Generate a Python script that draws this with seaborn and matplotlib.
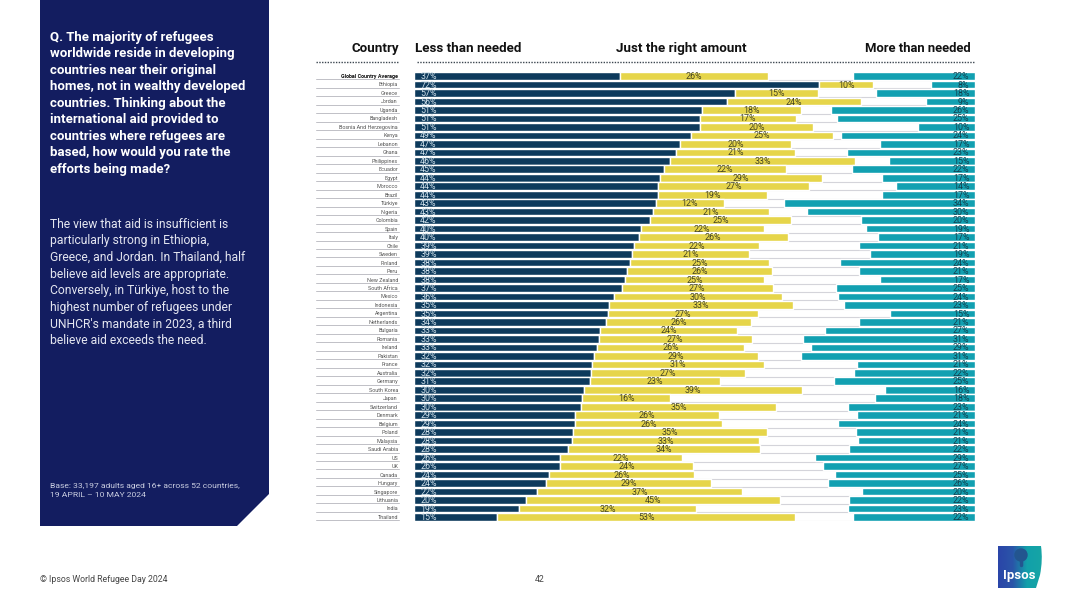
import matplotlib
matplotlib.use("Agg")
import matplotlib.pyplot as plt
import numpy as np
import pandas as pd
import seaborn as sns
from matplotlib.patches import Polygon, PathPatch
from matplotlib.path import Path

sns.set_theme(style="white")
plt.rcParams['font.family'] = ['Roboto', 'DejaVu Sans']

# data (bar lengths, labels are these rounded)
countries = ["Global Country Average", "Ethiopia", "Greece", "Jordan", "Uganda", "Bangladesh",
             "Bosnia And Herzegovina", "Kenya", "Lebanon", "Ghana", "Philippines", "Ecuador",
             "Egypt", "Morocco", "Brazil", "Türkiye", "Nigeria", "Colombia", "Spain", "Italy",
             "Chile", "Sweden", "Finland", "Peru", "New Zealand", "South Africa", "Mexico",
             "Indonesia", "Argentina", "Netherlands", "Bulgaria", "Romania", "Ireland",
             "Pakistan", "France", "Australia", "Germany", "South Korea", "Japan", "Switzerland",
             "Denmark", "Belgium", "Poland", "Malaysia", "Saudi Arabia", "US", "UK", "Canada",
             "Hungary", "Singapore", "Lithuania", "India", "Thailand"]
less = [36.7, 72.2, 57.2, 55.8, 51.4, 50.9, 50.9, 49.3, 47.4, 46.7, 45.7, 44.6, 43.9, 43.5,
        43.5, 43.1, 42.6, 42.1, 40.4, 40.1, 39.2, 38.9, 38.5, 38.0, 37.6, 37.0, 35.7, 34.8,
        34.6, 34.2, 33.2, 32.9, 32.6, 32.1, 31.7, 31.6, 31.4, 30.3, 30.0, 29.7, 28.7, 28.7,
        28.3, 28.2, 27.5, 26.0, 26.0, 24.1, 23.6, 21.9, 20.0, 18.7, 14.8]
just_right = [26.4, 9.7, 14.8, 23.8, 17.6, 17.2, 20.3, 25.3, 19.8, 21.2, 32.9, 21.7, 28.8, 26.9,
              19.4, 12.1, 20.6, 25.1, 21.9, 26.5, 22.3, 20.8, 24.8, 25.9, 24.8, 27.0, 29.9, 32.7,
              26.8, 25.9, 24.4, 27.3, 26.2, 29.2, 30.6, 27.4, 23.1, 38.8, 15.7, 34.9, 25.7, 26.2,
              34.7, 33.3, 34.2, 21.7, 23.7, 25.8, 29.4, 36.6, 45.2, 31.6, 53.2]
more = [21.7, 7.8, 17.6, 8.8, 25.7, 24.6, 10.1, 23.9, 17.0, 22.8, 15.3, 21.9, 16.6, 14.1,
        16.6, 34.0, 30.0, 20.3, 19.4, 17.3, 20.6, 18.7, 24.0, 20.6, 16.9, 24.7, 24.4, 23.4,
        15.2, 20.7, 26.7, 30.6, 29.2, 31.1, 21.0, 21.6, 25.2, 16.1, 17.8, 22.6, 21.0, 24.4,
        21.3, 20.8, 22.4, 28.6, 27.1, 25.0, 26.2, 20.2, 22.4, 22.7, 21.7]

question = ("Q. The majority of refugees\nworldwide reside in developing\ncountries near their original\n"
            "homes, not in wealthy developed\ncountries. Thinking about the\ninternational aid provided to\n"
            "countries where refugees are\nbased, how would you rate the\nefforts being made?")
commentary = ("The view that aid is insufficient is\nparticularly strong in Ethiopia,\n"
              "Greece, and Jordan. In Thailand, half\nbelieve aid levels are appropriate.\n"
              "Conversely, in Türkiye, host to the\nhighest number of refugees under\n"
              "UNHCR's mandate in 2023, a third\nbelieve aid exceeds the need.")
base_note = "Base: 33,197 adults aged 16+ across 52 countries,\n19 APRIL – 10 MAY 2024"

NAVY = "#0d3a5c"
YELLOW = "#e6d54a"
TEAL = "#12a0b1"
PANEL = "#131d60"
W, H = 1080, 607

df = pd.DataFrame({"country": countries, "less": less, "just": just_right, "more": more})
df["just_left"] = df["less"]
df["more_left"] = 100 - df["more"]

fig = plt.figure(figsize=(W / 100, H / 100), dpi=100, facecolor="white")

# page layer in pixel coordinates: panel, header rules, footer, logo
page = fig.add_axes([0, 0, 1, 1], zorder=0)
page.set_xlim(0, W)
page.set_ylim(H, 0)
page.axis("off")

page.add_patch(Polygon([(40, 0), (269, 0), (269, 494), (237, 526), (40, 526)], closed=True,
                       facecolor=PANEL, edgecolor="none"))
page.text(50, 30.5, question, color="white", fontsize=9.55, fontweight="bold", va="top", ha="left",
          linespacing=1.355)
page.text(50, 217.5, commentary, color="#e4e6f0", fontsize=8.7, va="top", ha="left", linespacing=1.37)
page.text(50, 483, base_note, color="#c9cde0", fontsize=6.1, va="top", ha="left", linespacing=1.6)
page.text(40, 580, "© Ipsos World Refugee Day 2024", color="#444444", fontsize=6.3, va="center")
page.text(540, 580, "42", color="#444444", fontsize=6.3, va="center", ha="center")

page.text(399, 52, "Country", color="#111111", fontsize=9.6, fontweight="bold", ha="right", va="baseline")
page.text(415, 52, "Less than needed", color="#111111", fontsize=9.6, fontweight="bold", ha="left", va="baseline")
page.text(681, 52, "Just the right amount", color="#111111", fontsize=9.6, fontweight="bold", ha="center", va="baseline")
page.text(971, 52, "More than needed", color="#111111", fontsize=9.35, fontweight="bold", ha="right", va="baseline")
page.plot([316, 399], [61.5, 61.5], color="#3c4650", lw=1.0, ls=(0, (1, 1)))
page.plot([417, 975], [61.5, 61.5], color="#3c4650", lw=1.0, ls=(0, (1, 1)))

# logo: blue to teal gradient with a curved right edge
grad = np.linspace(0, 1, 64).reshape(1, -1)
cmap = matplotlib.colors.LinearSegmentedColormap.from_list("logo", ["#2a45a8", "#2a55a8", "#12a0aa", "#16a5a5"])
logo_im = page.imshow(grad, extent=(998, 1042, 588, 546), cmap=cmap, aspect="auto", zorder=2)
logo_path = Path([(998, 546), (1041, 546), (1043, 560), (1040, 575), (1036, 588), (998, 588), (998, 546)],
                 [Path.MOVETO, Path.LINETO, Path.CURVE3, Path.CURVE3, Path.LINETO, Path.LINETO, Path.CLOSEPOLY])
logo_clip = PathPatch(logo_path, transform=page.transData, facecolor="none", edgecolor="none")
page.add_patch(logo_clip)
logo_im.set_clip_path(logo_clip)
page.text(1019, 575.5, "Ipsos", color="white", fontsize=9.5, fontweight="bold", ha="center", va="center", zorder=3)
page.add_patch(plt.Circle((1021, 555), 6, color="#23558f", zorder=3))
page.plot([1021, 1021], [558, 565], color="#23558f", lw=2.5, zorder=3)
page.set_xlim(0, W)
page.set_ylim(H, 0)

# chart layer
pitch = 8.48
top = 76 - pitch / 2
bottom = 76 + 52 * pitch + pitch / 2
ax = fig.add_axes([414 / W, 1 - bottom / H, (975 - 414) / W, (bottom - top) / H], zorder=1)
ax.patch.set_alpha(0)

sns.barplot(data=df, y="country", x="less", color=NAVY, width=0.9, saturation=1, ax=ax, zorder=2)
sns.barplot(data=df, y="country", x="just", left=df["just_left"].values, color=YELLOW, width=0.9,
            saturation=1, ax=ax, zorder=2)
sns.barplot(data=df, y="country", x="more", left=df["more_left"].values, color=TEAL, width=0.9,
            saturation=1, ax=ax, zorder=2)

ax.set_xlim(0, 100)
ax.set_ylim(len(df) - 0.5, -0.5)
ax.set_xlabel("")
ax.set_ylabel("")
ax.set_xticks([])
sns.despine(ax=ax, left=True, bottom=True)
ax.tick_params(axis="y", length=0, pad=11.5)
for i, lab in enumerate(ax.get_yticklabels()):
    lab.set_fontsize(3.9)
    lab.set_color("#111111" if i == 0 else "#555555")
    lab.set_fontweight("bold" if i == 0 else "normal")

# row rules, under the bars and across the country column
for i in range(len(df)):
    ax.axhline(i + 0.47, color="#d4d4da", lw=0.8, zorder=1)
    ax.plot([-17.5, -2.7], [i + 0.4, i + 0.4], color="#c0c0c6", lw=0.7, clip_on=False, zorder=1)

for i, row in df.iterrows():
    ax.text(1.1, i + 0.07, f"{row['less']:.0f}%", color="#cfe0ea", fontsize=6.4, ha="left",
            va="center", zorder=3)
    ax.text(row["less"] + row["just"] / 2, i + 0.07, f"{row['just']:.0f}%", color="#444422",
            fontsize=6.4, ha="center", va="center", zorder=3)
    ax.text(99.0, i + 0.07, f"{row['more']:.0f}%", color="#11404f", fontsize=6.4, ha="right",
            va="center", zorder=3)

fig.savefig("out.png", dpi=100, facecolor="white")
